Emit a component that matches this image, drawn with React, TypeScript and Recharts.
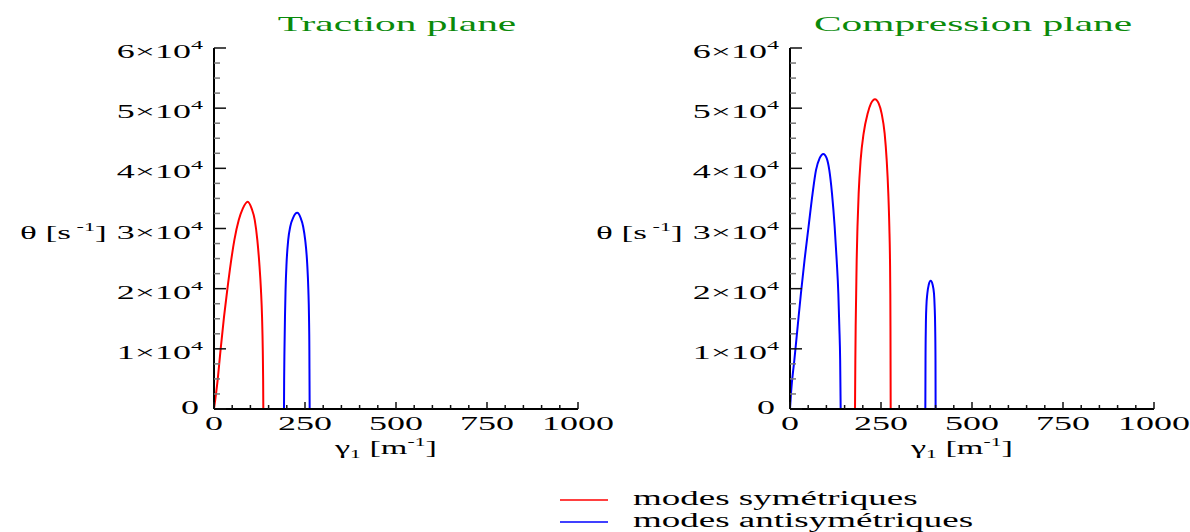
import { LineChart, Line, XAxis, YAxis } from 'recharts'

const RED = '#ff0000', BLUE = '#0000ff', GREEN = '#0a8a0a', MAJ = '#111', MIN = '#777'
const FONT = '"Liberation Serif","Times New Roman",serif'

const X_TICKS = [0, 50, 100, 150, 200, 250, 300, 350, 400, 450, 500, 550, 600, 650, 700, 750, 800, 850, 900, 950, 1000]
const Y_TICKS = [0, 2500, 5000, 7500, 10000, 12500, 15000, 17500, 20000, 22500, 25000, 27500, 30000,
  32500, 35000, 37500, 40000, 42500, 45000, 47500, 50000, 52500, 55000, 57500, 60000]

// [gamma1, theta] pairs
const tractionSym = [[0, 0], [10, 4800], [18, 9800], [27.5, 15300], [36.5, 19800], [46, 24200], [56, 28100], [68, 31400],
  [79, 33300], [92.5, 34450], [103.5, 33300], [112, 31400], [119, 28100], [124.5, 24200], [129, 19800], [132, 15300],
  [134, 9800], [135, 4800], [135.5, 0]]
const tractionAnti = [[192.3, 0], [192.7, 4800], [193.6, 9800], [195, 15300], [196.6, 19800], [199.3, 24200], [203.9, 28100],
  [209.4, 30300], [217.6, 31800], [228.6, 32600], [237.7, 31800], [245, 30300], [250.5, 28100], [256, 24200],
  [259.2, 19800], [261, 15300], [262, 9800], [262.4, 4800], [262.8, 0]]
const compAnti1 = [[0, 0], [2.7, 2600], [11.9, 8100], [21, 13700], [30, 19200], [40, 24800], [51, 30300], [62, 35800],
  [71.4, 39700], [81.5, 41700], [91.6, 42400], [100.7, 41700], [108, 39700], [115.4, 35800], [122.7, 30300],
  [128.2, 24800], [132.8, 19200], [135.5, 13700], [137.8, 8100], [139.2, 0]]
const compSym = [[178.6, 0], [179.5, 8100], [180.4, 13700], [181.8, 19200], [183.2, 24800], [185.4, 30300], [188.6, 35800],
  [194.1, 41400], [202.3, 45800], [213.3, 49100], [222.5, 50800], [233.5, 51500], [243.6, 50800], [251.8, 49100],
  [260, 45800], [265.6, 41400], [270.1, 35800], [272.9, 30300], [274.7, 24800], [275.6, 19200], [276, 13700], [276.6, 0]]
const compAnti2 = [[371.8, 0], [372.3, 8100], [373.2, 13700], [374.6, 17000], [377.3, 19200], [381, 20600], [386.5, 21300],
  [392, 20600], [395.6, 19200], [397.4, 17000], [398.8, 13700], [399.7, 8100], [400, 0]]

const pts = (a: number[][]) => a.map(([x, y]) => ({ x, y }))

// serif text, stretched horizontally
const SText = ({ x, y, sx = 1.95, size = 18, anchor = 'start', fill = '#000', children }: any) => (
  <text transform={`translate(${x} ${y}) scale(${sx} 1)`} textAnchor={anchor} fontSize={size} fontFamily={FONT} fill={fill}>{children}</text>
)

const YTickL = ({ x, y, payload }: any) => {
  const v = payload.value, major = v % 10000 === 0
  return (
    <g>
      <line x1={x} x2={x + (major ? 12 : 6)} y1={y} y2={y} stroke={major ? MAJ : MIN} strokeWidth={1.5} />
      {major && (v === 0
        ? <SText x={x - 15} y={y + 5} anchor="end" sx={2}>0</SText>
        : <SText x={x - 11} y={y + 10} anchor="end" sx={2}>{v / 10000}×10<tspan dy={-9} fontSize={12}>4</tspan></SText>)}
    </g>
  )
}
const YTickR = ({ x, y, payload }: any) => {
  const major = payload.value % 10000 === 0
  return <line x1={x} x2={x - (major ? 12 : 6)} y1={y} y2={y} stroke={major ? MAJ : MIN} strokeWidth={1.5} />
}
const XTickB = ({ x, y, payload }: any) => {
  const v = payload.value, major = v % 250 === 0
  return (
    <g>
      <line x1={x} x2={x} y1={y} y2={y - (major ? 7 : 4)} stroke={MAJ} strokeWidth={1.5} />
      {major && <SText x={x} y={y + 21} anchor="middle" sx={2}>{v}</SText>}
    </g>
  )
}
const XTickT = ({ x, y, payload }: any) => {
  const major = payload.value % 250 === 0
  return <line x1={x} x2={x} y1={y} y2={y + (major ? 7 : 4)} stroke={MAJ} strokeWidth={1.5} />
}

const frame = { stroke: '#000', strokeWidth: 2 }

function Panel({ left, title, curves }: any) {
  return (
    <div style={{ position: 'absolute', left, top: 0, width: 640, height: 532 }}>
      <LineChart width={640} height={480} margin={{ top: 48, right: 62, left: 0, bottom: 31 }}>
        <XAxis xAxisId="b" dataKey="x" type="number" domain={[0, 1000]} ticks={X_TICKS} interval={0}
          tick={(p: any) => <XTickB {...p} />} tickLine={false} tickSize={0} tickMargin={0} axisLine={frame} height={40} />
        <XAxis xAxisId="t" orientation="top" dataKey="x" type="number" domain={[0, 1000]} ticks={X_TICKS} interval={0}
          tick={(p: any) => <XTickT {...p} />} tickLine={false} tickSize={0} tickMargin={0} axisLine={frame} height={0} />
        <YAxis yAxisId="l" type="number" domain={[0, 60000]} ticks={Y_TICKS} interval={0}
          tick={(p: any) => <YTickL {...p} />} tickLine={false} tickSize={0} tickMargin={0} axisLine={frame} width={214} />
        <YAxis yAxisId="r" orientation="right" type="number" domain={[0, 60000]} ticks={Y_TICKS} interval={0}
          tick={(p: any) => <YTickR {...p} />} tickLine={false} tickSize={0} tickMargin={0} axisLine={frame} width={0} />
        {curves.map((c: any, i: number) => (
          <Line key={i} xAxisId="b" yAxisId="l" data={pts(c.data)} dataKey="y" type="monotone"
            stroke={c.color} strokeWidth={2} dot={false} isAnimationActive={false} />
        ))}
      </LineChart>
      <svg width={640} height={532} style={{ position: 'absolute', left: 0, top: 0, pointerEvents: 'none' }}>
        <SText x={397} y={31} anchor="middle" size={22} sx={1.88} fill={GREEN}>{title}</SText>
        <SText x={20} y={239} size={19} sx={1.85}>θ [s<tspan dy={-8} fontSize={12}> -1</tspan><tspan dy={8}>]</tspan></SText>
        <SText x={335} y={454} size={19} sx={1.8}>γ<tspan dy={4} fontSize={12}>1</tspan><tspan dy={-4}> [m</tspan>
          <tspan dy={-8} fontSize={12}>-1</tspan><tspan dy={8}>]</tspan></SText>
      </svg>
    </div>
  )
}

export default function App() {
  return (
    <div style={{ position: 'absolute', left: 0, top: 0, width: 1190, height: 532, background: '#fff', overflow: 'hidden' }}>
      <Panel left={0} title="Traction plane"
        curves={[{ data: tractionSym, color: RED }, { data: tractionAnti, color: BLUE }]} />
      <Panel left={576} title="Compression plane"
        curves={[{ data: compAnti1, color: BLUE }, { data: compSym, color: RED }, { data: compAnti2, color: BLUE }]} />
      <svg width={1190} height={532} style={{ position: 'absolute', left: 0, top: 0, pointerEvents: 'none' }}>
        <line x1={560} x2={608} y1={500} y2={500} stroke={RED} strokeWidth={1.5} />
        <line x1={560} x2={608} y1={522} y2={522} stroke={BLUE} strokeWidth={1.5} />
        <SText x={633} y={505} size={20} sx={1.85}>modes symétriques</SText>
        <SText x={633} y={527} size={20} sx={1.85}>modes antisymétriques</SText>
      </svg>
    </div>
  )
}
